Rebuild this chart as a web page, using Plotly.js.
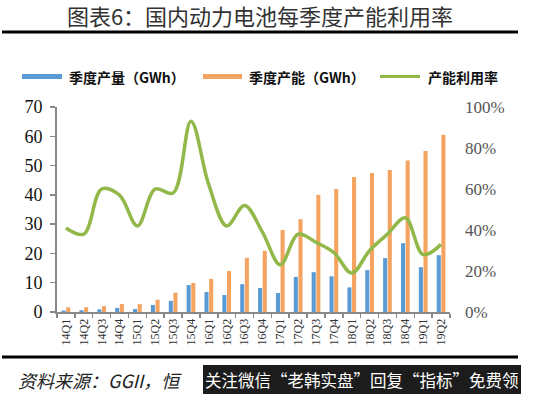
<!DOCTYPE html>
<html>
<head>
<meta charset="utf-8">
<script src="https://cdn.plot.ly/plotly-3.0.1.min.js"></script>
<style>html,body{margin:0;padding:0;background:#fff;}#chart{width:535px;height:394px;}</style>
</head>
<body>
<div id="chart"></div>
<script>
const categories = ['14Q1','14Q2','14Q3','14Q4','15Q1','15Q2','15Q3','15Q4','16Q1','16Q2','16Q3','16Q4','17Q1','17Q2','17Q3','17Q4','18Q1','18Q2','18Q3','18Q4','19Q1','19Q2'];
const production = [0.5, 0.6, 0.9, 1.4, 1.0, 2.4, 3.8, 9.2, 6.8, 5.8, 9.5, 8.2, 6.5, 12.0, 13.6, 12.2, 8.4, 14.3, 18.4, 23.5, 15.3, 19.4];
const capacity = [1.6, 1.6, 2.0, 2.7, 2.7, 4.2, 6.6, 9.9, 11.3, 14.0, 18.5, 20.9, 28.0, 31.7, 40.0, 42.0, 46.1, 47.5, 48.5, 51.7, 55.0, 60.5];
const utilization = [0.41, 0.38, 0.60, 0.57, 0.42, 0.60, 0.58, 0.93, 0.62, 0.42, 0.52, 0.39, 0.23, 0.38, 0.34, 0.29, 0.19, 0.30, 0.38, 0.46, 0.28, 0.33];
const seriesNames = ['季度产量（GWh）', '季度产能（GWh）', '产能利用率'];
const titleText = '图表6：国内动力电池每季度产能利用率';
const sourceText = '资料来源：GGII，恒';
const watermarkText = '关注微信“老韩实盘”回复“指标”免费领';

const W = 535, H = 394, L = 57, R = 450, T = 107, B = 312;
const px = x => (x - L) / (R - L);
const py = y => (B - y) / (B - T);

const blue = '#5B9BD5', orange = '#F4A460', green = '#92B84A';
const serif = '"Liberation Serif", "Times New Roman", serif';
const cjk = '"Noto Sans CJK SC", sans-serif';

const traces = [
  {type:'bar', x:categories, y:production, name:seriesNames[0], marker:{color:blue}, yaxis:'y'},
  {type:'bar', x:categories, y:capacity, name:seriesNames[1], marker:{color:orange}, yaxis:'y'},
  {type:'scatter', mode:'lines', x:categories, y:utilization, name:seriesNames[2], yaxis:'y2',
   line:{color:green, width:3.5, shape:'spline', smoothing:1}}
];

const shapes = [
  {type:'line', xref:'paper', yref:'paper', x0:px(2), x1:px(518), y0:py(32), y1:py(32), line:{color:'#000', width:3}},
  {type:'line', xref:'paper', yref:'paper', x0:px(2), x1:px(518), y0:py(357), y1:py(357), line:{color:'#000', width:3}},
  {type:'rect', xref:'paper', yref:'paper', x0:px(22), x1:px(62), y0:py(74), y1:py(79), fillcolor:blue, line:{width:0}},
  {type:'rect', xref:'paper', yref:'paper', x0:px(203), x1:px(242), y0:py(74), y1:py(79), fillcolor:orange, line:{width:0}},
  {type:'line', xref:'paper', yref:'paper', x0:px(380), x1:px(420), y0:py(76.5), y1:py(76.5), line:{color:green, width:3}},
  {type:'rect', xref:'paper', yref:'paper', x0:px(203), x1:px(521), y0:py(365), y1:py(394), fillcolor:'#1c1c1c', line:{width:0}}
];

const legFont = {family:cjk, size:14, color:'#111', weight:'bold'};
const annotations = [
  {xref:'paper', yref:'paper', x:px(67), y:py(77), xanchor:'left', yanchor:'middle', text:seriesNames[0], showarrow:false, font:legFont},
  {xref:'paper', yref:'paper', x:px(247), y:py(77), xanchor:'left', yanchor:'middle', text:seriesNames[1], showarrow:false, font:legFont},
  {xref:'paper', yref:'paper', x:px(426), y:py(77), xanchor:'left', yanchor:'middle', text:seriesNames[2], showarrow:false, font:legFont},
  {xref:'paper', yref:'paper', x:px(16), y:py(380), xanchor:'left', yanchor:'middle', text:'<i>' + sourceText + '</i>', showarrow:false,
   font:{family:cjk, size:18, color:'#222'}},
  {xref:'paper', yref:'paper', x:px(362), y:py(379.5), xanchor:'center', yanchor:'middle', text:watermarkText, showarrow:false,
   font:{family:cjk, size:16.5, color:'#fff'}}
];

const layout = {
  width:W, height:H,
  margin:{l:L, r:W-R, t:T, b:H-B},
  paper_bgcolor:'#fff', plot_bgcolor:'#fff',
  showlegend:false,
  barmode:'group', bargap:0.48, bargroupgap:0.12,
  title:{text:titleText, xref:'container', yref:'container', x:260/W, xanchor:'center', y:1-17/H, yanchor:'middle',
         font:{family:cjk, size:22, color:'#333'}},
  xaxis:{type:'category', showgrid:false, zeroline:false, showline:true, linecolor:'#888', linewidth:2,
         ticks:'outside', tickson:'boundaries', ticklen:4, tickcolor:'#888', tickwidth:1.5,
         tickangle:-90, tickfont:{family:serif, size:12, color:'#333'}},
  yaxis:{range:[0,70], dtick:10, showgrid:false, zeroline:false, showline:true, linecolor:'#888', linewidth:2,
         ticks:'outside', ticklen:5, tickcolor:'#888', tickwidth:1.5,
         tickfont:{family:serif, size:18, color:'#111'}, ticklabelstandoff:4},
  yaxis2:{range:[0,1], dtick:0.2, tickformat:'.0%', overlaying:'y', side:'right', showgrid:false, zeroline:false,
          showline:false, ticks:'', tickfont:{family:serif, size:17, color:'#555'}, ticklabelstandoff:14},
  shapes:shapes,
  annotations:annotations
};

Plotly.newPlot('chart', traces, layout, {displayModeBar:false, staticPlot:true});
</script>
</body>
</html>
